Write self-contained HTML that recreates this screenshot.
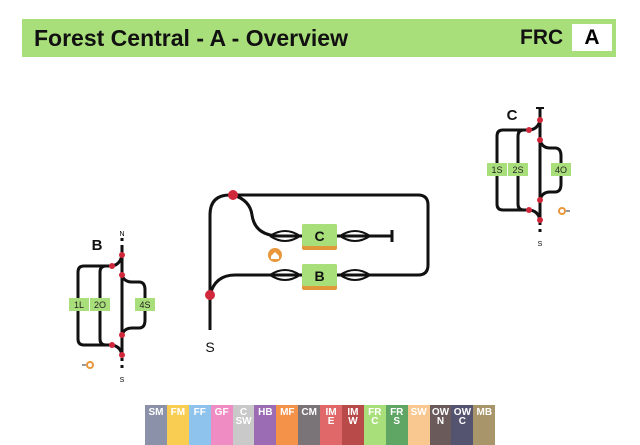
<!DOCTYPE html>
<html><head><meta charset="utf-8"><style>
body{margin:0;width:640px;height:445px;background:#fff;overflow:hidden;position:relative;font-family:"Liberation Sans",sans-serif}
.hdr{position:absolute;left:22px;top:19px;width:594px;height:38px;background:#a9df7b}
.hdr .t{position:absolute;left:12px;top:6px;font-size:23px;font-weight:bold;color:#111}
.hdr .f{position:absolute;left:498px;top:7px;font-size:21px;font-weight:bold;color:#111}
.hdr .a{position:absolute;left:550px;top:5px;width:40px;height:27px;background:#fff;font-size:21px;font-weight:bold;text-align:center;line-height:27px}
.tabs{position:absolute;left:145px;top:405px;display:flex}
.tabs div{width:21.9px;height:40px;color:#fff;font-size:10px;font-weight:bold;text-align:center;line-height:9px;padding-top:3px;box-sizing:border-box}
</style></head><body>
<div class="hdr"><div class="t">Forest Central - A - Overview</div><div class="f">FRC</div><div class="a">A</div></div>
<svg width="640" height="445" style="position:absolute;left:0;top:0" font-family="Liberation Sans,sans-serif">
<g fill="none" stroke="#111" stroke-width="3">
<path d="M210 330 V215 Q210 195 230 195 H418 Q428 195 428 205 V265 Q428 275 418 275 H235 Q215 275 210 295"/>
<path d="M233 195 Q250 200 252 215 Q255 236 280 236 H392"/>
<path d="M392 230 V242"/>
<path d="M270 236 Q285 226 300 236 Q285 246 270 236 M340 236 Q355 226 370 236 Q355 246 340 236" stroke-width="2"/>
<path d="M270 275 Q285 265 300 275 Q285 285 270 275 M340 275 Q355 265 370 275 Q355 285 340 275" stroke-width="2"/>
<path d="M122 248 V357"/>
<path d="M122 255 Q120 266 110 266 H84 Q78 266 78 272 V339 Q78 345 84 345 H110 Q120 345 122 355"/>
<path d="M110 266 H106 Q100 266 100 272 V339 Q100 345 106 345 H110"/>
<path d="M122 275 Q124 282 132 282 H139 Q145 282 145 290 V320 Q145 328 139 328 H132 Q124 328 122 335"/>
<path d="M540 108 V222"/>
<path d="M540 120 Q538 130 528 130 H503 Q497 130 497 136 V204 Q497 210 503 210 H528 Q538 210 540 220"/>
<path d="M528 130 H524 Q518 130 518 136 V204 Q518 210 524 210 H528"/>
<path d="M540 140 Q542 148 550 148 H555 Q561 148 561 156 V184 Q561 192 555 192 H550 Q542 192 540 200"/>
<path d="M536 108 H544" stroke-width="2"/>
</g>
<g stroke="#111" stroke-width="3" stroke-dasharray="3 4" fill="none">
<path d="M210 303 V330"/><path d="M122 238 V248"/><path d="M122 358 V370"/><path d="M540 222 V234"/>
</g>
<g fill="#d0283a"><circle cx="233" cy="195" r="5"/><circle cx="210" cy="295" r="5"/>
<circle cx="122" cy="255" r="3"/><circle cx="122" cy="275" r="3"/><circle cx="122" cy="335" r="3"/><circle cx="122" cy="355" r="3"/><circle cx="112" cy="266" r="3"/><circle cx="112" cy="345" r="3"/>
<circle cx="540" cy="120" r="3"/><circle cx="540" cy="140" r="3"/><circle cx="540" cy="200" r="3"/><circle cx="540" cy="220" r="3"/><circle cx="529" cy="130" r="3"/><circle cx="529" cy="210" r="3"/></g>
<rect x="302" y="224" width="35" height="26" fill="#e09a3c" rx="2"/><rect x="302" y="224" width="35" height="22" fill="#a9df7b" rx="2"/>
<rect x="302" y="264" width="35" height="26" fill="#e09a3c" rx="2"/><rect x="302" y="264" width="35" height="22" fill="#a9df7b" rx="2"/>
<text x="319.5" y="241" font-size="14" font-weight="bold" text-anchor="middle" fill="#111">C</text>
<text x="319.5" y="281" font-size="14" font-weight="bold" text-anchor="middle" fill="#111">B</text>
<circle cx="275" cy="255" r="7" fill="#e8973a"/><path d="M271 256 L275 252 L279 256 V259 H271Z" fill="#fff"/>
<text x="210" y="352" font-size="14" text-anchor="middle" fill="#111">S</text>
<text x="97" y="250" font-size="15" font-weight="bold" text-anchor="middle" fill="#111">B</text>
<text x="512" y="120" font-size="15" font-weight="bold" text-anchor="middle" fill="#111">C</text>
<text x="122" y="236" font-size="7" text-anchor="middle">N</text>
<text x="122" y="382" font-size="7" text-anchor="middle">S</text>
<text x="540" y="246" font-size="7" text-anchor="middle">S</text>
<g font-size="9" text-anchor="middle" fill="#222">
<rect x="69" y="298" width="20" height="13" fill="#a9df7b"/><text x="79" y="308">1L</text>
<rect x="90" y="298" width="20" height="13" fill="#a9df7b"/><text x="100" y="308">2O</text>
<rect x="135" y="298" width="20" height="13" fill="#a9df7b"/><text x="145" y="308">4S</text>
<rect x="487" y="163" width="20" height="13" fill="#a9df7b"/><text x="497" y="173">1S</text>
<rect x="508" y="163" width="20" height="13" fill="#a9df7b"/><text x="518" y="173">2S</text>
<rect x="551" y="163" width="20" height="13" fill="#a9df7b"/><text x="561" y="173">4O</text>
</g>
<circle cx="90" cy="365" r="3" fill="none" stroke="#e8973a" stroke-width="2"/><path d="M82 365 H86" stroke="#333"/>
<circle cx="562" cy="211" r="3" fill="none" stroke="#e8973a" stroke-width="2"/><path d="M566 211 H570" stroke="#333"/>
<path d="M367 445 L375 437 L383 445Z" fill="#111"/>
</svg>
<div class="tabs">
<div style="background:#8a91a8">SM</div><div style="background:#f9cd52">FM</div><div style="background:#8ec3ee">FF</div><div style="background:#f08cc4">GF</div><div style="background:#c9c9c9">C<br>SW</div><div style="background:#9b6cb4">HB</div><div style="background:#f4924a">MF</div><div style="background:#7a7478">CM</div><div style="background:#e06868">IM<br>E</div><div style="background:#b94a4a">IM<br>W</div><div style="background:#a9df7b">FR<br>C</div><div style="background:#5fa564">FR<br>S</div><div style="background:#f9c890">SW</div><div style="background:#6a5a5a">OW<br>N</div><div style="background:#545470">OW<br>C</div><div style="background:#a8956a">MB</div>
</div>
</body></html>
